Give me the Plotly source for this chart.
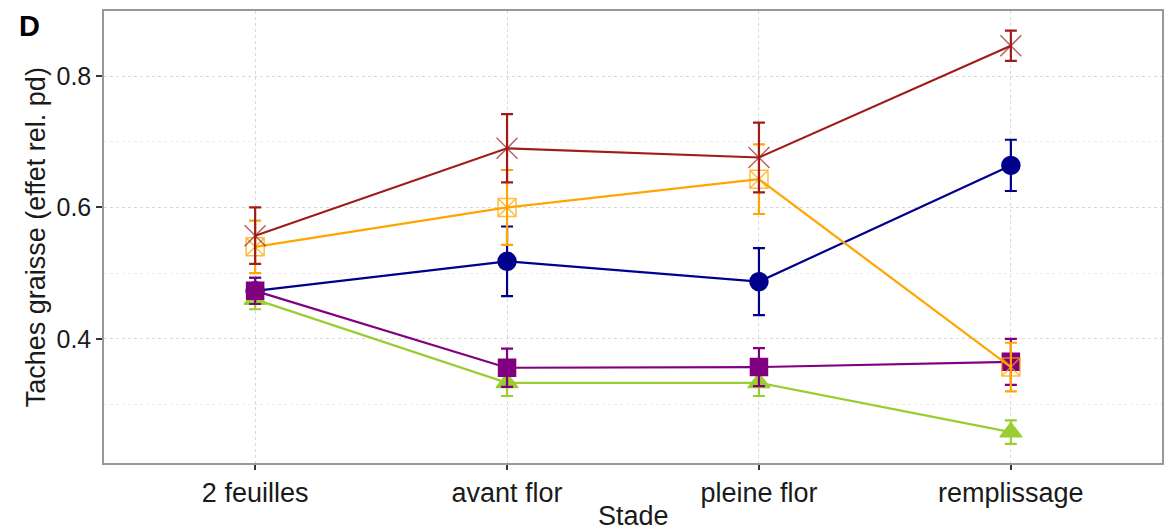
import plotly.graph_objects as go

stades = ["2 feuilles", "avant flor", "pleine flor", "remplissage"]

# series values (mean) and error (half-width)
rouge_y = [0.557, 0.690, 0.676, 0.846]
rouge_err = [0.043, 0.052, 0.053, 0.023]
orange_y = [0.540, 0.600, 0.643, 0.357]
orange_err = [0.040, 0.057, 0.053, 0.037]
bleu_y = [0.473, 0.518, 0.487, 0.664]
bleu_err = [0.020, 0.053, 0.051, 0.039]
violet_y = [0.473, 0.356, 0.357, 0.365]
violet_err = [0.020, 0.029, 0.029, 0.035]
vert_y = [0.460, 0.333, 0.333, 0.258]
vert_err = [0.015, 0.020, 0.020, 0.018]

y_ticks = [0.4, 0.6, 0.8]

FONT = "Liberation Sans, Arial, sans-serif"

series = [
    dict(y=bleu_y, e=bleu_err, c="#00008B", sym="circle", size=18, op=1.0),
    dict(y=vert_y, e=vert_err, c="#9ACD32", sym="triangle-up", size=19, op=1.0),
    dict(y=violet_y, e=violet_err, c="#800080", sym="square", size=17, op=1.0),
    dict(y=orange_y, e=orange_err, c="#FFA500", sym="square-x-open", size=18, op=0.75),
    dict(y=rouge_y, e=rouge_err, c="#A01C1C", sym="x-thin-open", size=21, op=0.7),
]

fig = go.Figure()
for s in series:
    fig.add_trace(go.Scatter(
        x=stades, y=s["y"], mode="lines+markers",
        line=dict(color=s["c"], width=2.2),
        marker=dict(symbol=s["sym"], size=s["size"], color=s["c"], opacity=s["op"],
                    line=dict(color=s["c"], width=1.5)),
        error_y=dict(type="data", array=s["e"], visible=True, color=s["c"],
                     thickness=2.2, width=6),
        showlegend=False,
    ))

fig.update_layout(
    width=1171, height=531,
    margin=dict(l=104, r=7, t=11, b=68),
    paper_bgcolor="white", plot_bgcolor="white",
    font=dict(family=FONT, color="#1a1a1a"),
    xaxis=dict(
        type="category", range=[-0.6, 3.6],
        showline=True, mirror=True, linecolor="#999999", linewidth=1.5,
        ticks="outside", ticklen=5, tickwidth=1.5, tickcolor="#333333",
        tickfont=dict(size=27, family=FONT, color="#1a1a1a"),
        showgrid=True, gridcolor="#d9d9d9", griddash="dot", gridwidth=1,
        zeroline=False,
    ),
    yaxis=dict(
        range=[0.211, 0.899],
        tickvals=y_ticks, ticktext=[f"{v:.1f}" for v in y_ticks],
        showline=True, mirror=True, linecolor="#999999", linewidth=1.5,
        ticks="outside", ticklen=6, tickwidth=1.5, tickcolor="#333333",
        tickfont=dict(size=25, family=FONT, color="#1a1a1a"),
        showgrid=True, gridcolor="#d9d9d9", griddash="dot", gridwidth=1,
        minor=dict(tickvals=[0.3, 0.5, 0.7], showgrid=True, gridcolor="#eeeeee",
                   griddash="dot", gridwidth=1),
        zeroline=False,
    ),
    annotations=[
        dict(text="Stade", xref="paper", yref="paper", x=0.5, y=-0.117,
             xanchor="center", yanchor="middle", showarrow=False,
             font=dict(size=27, family=FONT, color="#1a1a1a")),
        dict(text="Taches graisse (effet rel. pd)", xref="paper", yref="paper",
             x=-0.064, y=0.5, textangle=-90, xanchor="center", yanchor="middle",
             showarrow=False, font=dict(size=27, family=FONT, color="#1a1a1a")),
        dict(text="<b>D</b>", xref="paper", yref="paper", x=-0.0708, y=0.967,
             xanchor="center", yanchor="middle", showarrow=False,
             font=dict(size=29, family=FONT, color="black")),
    ],
)

fig.write_html("out.html")
